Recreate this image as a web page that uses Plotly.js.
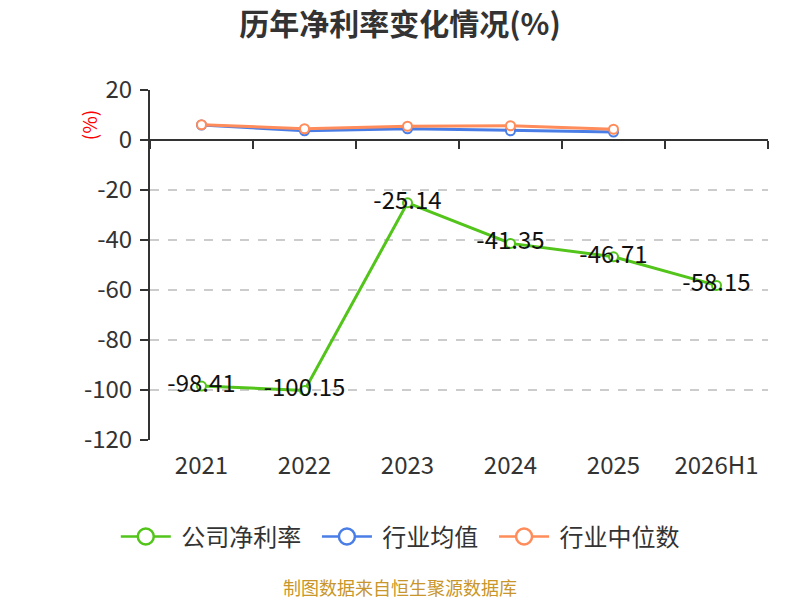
<!DOCTYPE html>
<html>
<head>
<meta charset="utf-8">
<script src="https://cdn.plot.ly/plotly-3.0.1.min.js"></script>
<style>html,body{margin:0;padding:0;background:#fff;}#chart{width:800px;height:600px;}</style>
</head>
<body>
<div id="chart"></div>
<script>
var categories = ['2021', '2022', '2023', '2024', '2025', '2026H1'];
var companyValues = [-98.41, -100.15, -25.14, -41.35, -46.71, -58.15];
var industryMean = [6.0, 3.7, 4.5, 3.7, 3.2];
var industryMedian = [6.1, 4.5, 5.5, 5.7, 4.3];
var seriesNames = ['公司净利率', '行业均值', '行业中位数'];
var seriesColors = ['#52c41a', '#4a7ee6', '#ff8c5a'];
var companyLabels = companyValues.map(function (v) { return v.toFixed(2); });
var yTickVals = [20, 0, -20, -40, -60, -80, -100, -120];

var FONT = '"Noto Sans CJK SC", "Noto Sans", sans-serif';
var PAD = '\u00a0';

function markerStyle(c, s, w) {
  return {symbol: 'circle', size: s, color: '#ffffff', line: {color: c, width: w}};
}

var traces = [
  {
    x: categories, y: companyValues, name: seriesNames[0], showlegend: false,
    type: 'scatter', mode: 'lines+markers+text',
    text: companyLabels, textposition: 'middle center',
    textfont: {size: 24, color: '#111', family: FONT},
    line: {color: seriesColors[0], width: 3},
    marker: markerStyle(seriesColors[0], 9, 2),
    cliponaxis: false, hoverinfo: 'skip'
  },
  {
    x: categories.slice(0, industryMean.length), y: industryMean, name: seriesNames[1], showlegend: false,
    type: 'scatter', mode: 'lines+markers',
    line: {color: seriesColors[1], width: 3},
    marker: markerStyle(seriesColors[1], 9, 2),
    hoverinfo: 'skip'
  },
  {
    x: categories.slice(0, industryMedian.length), y: industryMedian, name: seriesNames[2], showlegend: false,
    type: 'scatter', mode: 'lines+markers',
    line: {color: seriesColors[2], width: 3},
    marker: markerStyle(seriesColors[2], 9, 2),
    hoverinfo: 'skip'
  },
  {
    x: categories, y: companyValues.map(function () { return null; }),
    xaxis: 'x2', yaxis: 'y', showlegend: false, hoverinfo: 'skip',
    type: 'scatter', mode: 'lines'
  }
];
// legend-only entries with larger symbols
seriesNames.forEach(function (n, i) {
  traces.push({
    x: [null], y: [null], name: PAD + n + (i < seriesNames.length - 1 ? PAD + PAD : ''),
    type: 'scatter', mode: 'lines+markers',
    line: {color: seriesColors[i], width: 2.5},
    marker: markerStyle(seriesColors[i], 22, 2.5), hoverinfo: 'skip'
  });
});

var yMin = -120, yMax = 20;
var layout = {
  width: 800, height: 600,
  paper_bgcolor: '#ffffff', plot_bgcolor: '#ffffff',
  margin: {l: 150, r: 32, t: 90, b: 160},
  font: {family: FONT, color: '#333'},
  title: {text: '<b>历年净利率变化情况(%)</b>', x: 0.5, xanchor: 'center', y: 0.96, yanchor: 'middle',
          font: {size: 30, color: '#333', family: FONT}},
  showlegend: true,
  legend: {orientation: 'h', x: 0.405, xanchor: 'center', y: -0.277, yanchor: 'middle',
           font: {size: 24, color: '#333', family: FONT}, tracegroupgap: 0, itemwidth: 50},
  xaxis: {
    type: 'category', categoryorder: 'array', categoryarray: categories,
    range: [-0.5, categories.length - 0.5],
    showline: false, showgrid: false, zeroline: false, ticks: '',
    tickfont: {size: 24, color: '#333', family: FONT}, ticklabelstandoff: 9
  },
  xaxis2: {
    type: 'category', categoryorder: 'array', categoryarray: categories,
    range: [-0.5, categories.length - 0.5],
    overlaying: 'x', anchor: 'free', position: (0 - yMin) / (yMax - yMin), side: 'bottom',
    showline: true, linecolor: '#333', linewidth: 2,
    ticks: 'outside', tickson: 'boundaries', ticklen: 8, tickwidth: 2, tickcolor: '#333',
    showticklabels: false, showgrid: false, zeroline: false
  },
  yaxis: {
    range: [yMin, yMax], tickvals: yTickVals, ticktext: yTickVals.map(String),
    showline: true, linecolor: '#333', linewidth: 2,
    ticks: 'outside', ticklen: 8, tickwidth: 2, tickcolor: '#333',
    showgrid: true, gridcolor: '#cccccc', griddash: 'dash', gridwidth: 1.5,
    zeroline: false, ticklabelstandoff: 3,
    tickfont: {size: 24, color: '#333', family: FONT}
  },
  annotations: [
    {text: '(%)', xref: 'paper', yref: 'paper', x: -0.1, y: 0.9, textangle: -90,
     xanchor: 'center', yanchor: 'middle',
     showarrow: false, font: {size: 19, color: '#ff0000', family: FONT}},
    {text: '制图数据来自恒生聚源数据库', xref: 'paper', yref: 'paper', x: 0.405, y: -0.42,
     xanchor: 'center', yanchor: 'middle', showarrow: false,
     font: {size: 18, color: '#c8962a', family: FONT}}
  ]
};

Plotly.newPlot('chart', traces, layout, {displayModeBar: false, staticPlot: true});
</script>
</body>
</html>
